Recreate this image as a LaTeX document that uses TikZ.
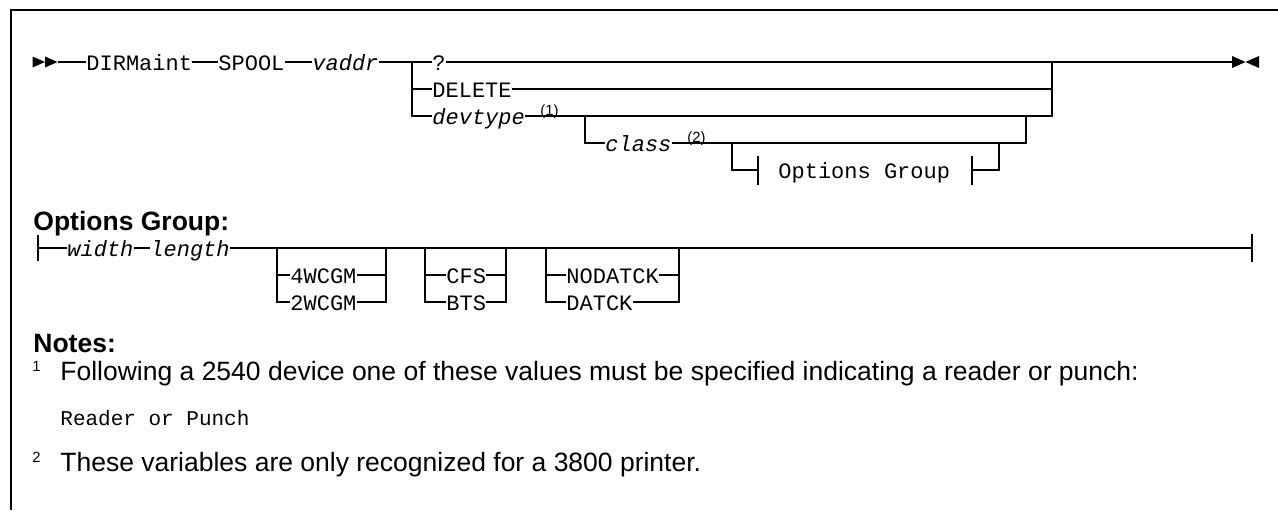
\documentclass[tikz,border=0pt]{standalone}
\usepackage{fontspec}
\setmainfont{Liberation Sans}
\setmonofont{Liberation Mono}
\usetikzlibrary{positioning}

\tikzset{
  track/.style={line width=0.75pt},
  kw/.style={font=\ttfamily\fontsize{11}{13}\selectfont, inner sep=0pt, text height=8pt, text depth=0pt, anchor=west},
  var/.style={kw, font=\ttfamily\itshape\fontsize{11}{13}\selectfont},
  fnref/.style={font=\fontsize{7.4}{9}\selectfont, inner sep=0pt, anchor=base west},
  heading/.style={font=\bfseries\fontsize{13.25}{16}\selectfont, inner sep=0pt, anchor=base west},
  notetext/.style={font=\fontsize{13.25}{16}\selectfont, inner sep=0pt, anchor=base west},
  codetext/.style={font=\ttfamily\fontsize{10.5}{12}\selectfont, inner sep=0pt, anchor=base west}
}

\begin{document}
\begin{tikzpicture}[x=0.5pt, y=-0.5pt]
\useasboundingbox (0,0) rectangle (1278,510);
\draw[track] (11,510) -- (11,10) -- (1278,10);

% main statement
\foreach \x in {32.5,45} {
    \fill (\x,56.5) -- (\x+12.5,62) -- (\x,67.5) -- cycle;
}
\coordinate (begin) at (57.5,62);
\node[kw] (dirm) at (86,62) {DIRMaint};
\node[kw] (spool) at (218,62) {SPOOL};
\node[var] (vaddr) at (312,62) {vaddr};
\coordinate (fork) at (412,62);
\node[kw] (qmark) at (432,62) {?};
\node[kw] (delete) at (432,89) {DELETE};
\node[var] (devtype) at (432,116) {devtype};
\node[fnref] (ref1) at (540,115) {(1)};
\coordinate (join) at (1052,62);
\coordinate (finish) at (1232,62);
\fill (1232,56) -- (1245.5,62) -- (1232,68) -- cycle;
\fill (1259,56) -- (1245.5,62) -- (1259,68) -- cycle;

\draw[track] (begin) -- (dirm) -- (spool) -- (vaddr) -- (fork) -- (qmark) -- (join) -- (finish);
\draw[track] (fork) |- (devtype.west);
\draw[track] (fork |- delete) -- (delete.west);
\draw[track] (delete.east) -- (join |- delete);
\draw[track] (devtype.east) -- (join |- devtype) -- (join);

% class
\coordinate (clfork) at (585,116);
\node[var] (class) at (605,143) {class};
\node[fnref] (ref2) at (687,142) {(2)};
\coordinate (cljoin) at (1026,116);
\draw[track] (clfork) |- (class.west);
\draw[track] (class.east) -- (cljoin |- class) -- (cljoin);

% options group reference
\coordinate (ogfork) at (732,143);
\coordinate (ogleft) at (758,170);
\node[kw] (ogref) at (778,170) {Options Group};
\coordinate (ogright) at (972,170);
\coordinate (ogjoin) at (999,143);
\draw[track] (ogfork) |- (ogleft);
\draw[track] ([yshift=7.25pt]ogleft) -- ([yshift=-7.25pt]ogleft);
\draw[track] ([yshift=7.25pt]ogright) -- ([yshift=-7.25pt]ogright);
\draw[track] (ogright) -- (ogjoin |- ogright) -- (ogjoin);

% options group fragment
\node[heading] (oghead) at (33,230) {Options Group:};
\coordinate (ogstart) at (38,248);
\node[var] (width) at (67,248) {width};
\node[var] (length) at (150,248) {length};
\coordinate (ogend) at (1252,248);
\draw[track] (ogstart) -- (width) -- (length) -- (ogend);
\draw[track] ([yshift=6.5pt]ogstart) -- ([yshift=-6.5pt]ogstart);
\draw[track] ([yshift=7pt]ogend) -- ([yshift=-7pt]ogend);

\foreach \lx/\rx/\tx/\upper/\lower/\nm in {277/386/290/4WCGM/2WCGM/wcgm, 425/506/446/CFS/BTS/fs, 546/679/566/NODATCK/DATCK/datck} {
    \coordinate (\nm-in) at (\lx,248);
    \coordinate (\nm-out) at (\rx,248);
    \node[kw] (\nm-up) at (\tx,275) {\upper};
    \node[kw] (\nm-dn) at (\tx,302) {\lower};
    \draw[track] (\nm-in) |- (\nm-dn.west);
    \draw[track] (\nm-in |- \nm-up) -- (\nm-up.west);
    \draw[track] (\nm-up.east) -- (\nm-out |- \nm-up);
    \draw[track] (\nm-dn.east) -- (\nm-out |- \nm-dn) -- (\nm-out);
}

% notes
\node[heading] (noteshead) at (33,352) {Notes:};
\node[fnref] (mark1) at (32,371) {1};
\node[notetext] (note1) at (60,380) {Following a 2540 device one of these values must be specified indicating a reader or punch:};
\node[codetext] (note1b) at (60,425) {Reader or Punch};
\node[fnref] (mark2) at (32,462) {2};
\node[notetext] (note2) at (60,471) {These variables are only recognized for a 3800 printer.};

\end{tikzpicture}
\end{document}
